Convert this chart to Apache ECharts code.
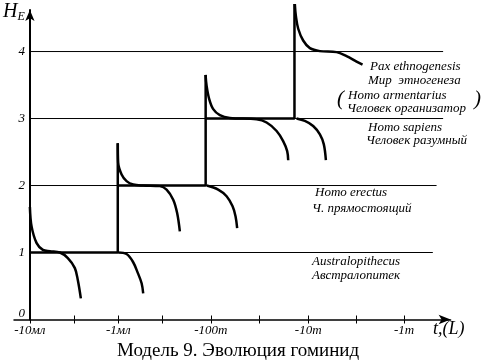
<!DOCTYPE html>
<html><head><meta charset="utf-8">
<script src="https://cdn.jsdelivr.net/npm/echarts@6/dist/echarts.min.js"></script>
<style>html,body{margin:0;padding:0;background:#fff}#c{width:487px;height:364px}</style>
</head><body><div id="c"></div>
<script>
const xTickValues = [0, 0.946, 1.936, 2.977, 4.003];
const xTickLabels = ['-10мл', '-1мл', '-100т', '-10т', '-1т'];
const xMinorTicks = [0.471, 1.415, 2.452, 3.494];
const yTickValues = [0, 1, 2, 3, 4];
const yTickLabels = ['0', '1', '2', '3', '4'];
const levels = [1, 2, 3, 4];
const levelEnds = [4.31, 4.35, 4.42, 4.42];

const stage1Step = [[0, 1], [0.94, 1], [0.94, 2.63]];
const stage2Step = [[0.94, 2], [1.88, 2], [1.88, 3.65]];
const stage3Step = [[1.88, 3], [2.83, 3], [2.83, 4.71]];

const curve1a = [[0, 1.68], [0.018, 1.39], [0.072, 1.14], [0.139, 1.04], [0.214, 1.02], [0.321, 1.0], [0.406, 0.917], [0.481, 0.767], [0.513, 0.586], [0.545, 0.316]];
const curve1b = [[0.944, 1.0], [1.034, 0.977], [1.102, 0.862], [1.155, 0.692], [1.195, 0.541], [1.212, 0.391]];
const curve2a = [[0.94, 2.63], [0.944, 2.341], [0.981, 2.165], [1.034, 2.066], [1.105, 2.015], [1.212, 2.0], [1.39, 1.991], [1.462, 1.94], [1.533, 1.789], [1.575, 1.589], [1.604, 1.314]];
const curve2b = [[1.89, 2.0], [2.014, 1.94], [2.104, 1.84], [2.168, 1.689], [2.2, 1.539], [2.217, 1.363]];
const curve3a = [[1.879, 3.651], [1.89, 3.49], [1.918, 3.29], [1.961, 3.14], [2.032, 3.05], [2.139, 3.009], [2.425, 2.989], [2.532, 2.94], [2.639, 2.814], [2.709, 2.663], [2.752, 2.513], [2.763, 2.378]];
const curve3b = [[2.852, 3.0], [2.941, 2.964], [3.03, 2.889], [3.102, 2.764], [3.144, 2.614], [3.166, 2.378]];
const curve4a = [[2.834, 4.71], [2.845, 4.53], [2.87, 4.34], [2.923, 4.165], [2.995, 4.051], [3.102, 4.006], [3.28, 3.991], [3.387, 3.931], [3.494, 3.85], [3.558, 3.805]];

const annotationLines = [
  ['Pax ethnogenesis', 370, 68],
  ['Мир  этногенеза', 368, 82],
  ['Homo armentarius', 348, 97],
  ['Человек организатор', 347, 110],
  ['Homo sapiens', 368, 129],
  ['Человек разумный', 366, 142],
  ['Homo erectus', 315, 194],
  ['Ч. прямостоящий', 312, 210],
  ['Australopithecus', 312, 263],
  ['Австралопитек', 312, 277]
];

const chart = echarts.init(document.getElementById('c'), null, {renderer: 'canvas'});
const serif = '"Liberation Serif", "DejaVu Serif", serif';

const series = [];
levels.forEach((lv, i) => {
  series.push({type: 'line', data: [[0, lv], [levelEnds[i], lv]], showSymbol: false, silent: true,
    lineStyle: {color: '#000', width: 1}, clip: false, z: 1});
});
[stage1Step, stage2Step, stage3Step].forEach(d => {
  series.push({type: 'line', data: d, showSymbol: false, silent: true,
    lineStyle: {color: '#000', width: 2.5}, clip: false, z: 3});
});
[curve1a, curve1b, curve2a, curve2b, curve3a, curve3b, curve4a].forEach(d => {
  series.push({type: 'line', data: d, showSymbol: false, silent: true, smooth: 0.35,
    lineStyle: {color: '#000', width: 2.5}, clip: false, z: 4});
});

const graphics = annotationLines.map(a => ({
  type: 'text', left: a[1], top: a[2] - 8,
  style: {text: a[0], fontFamily: serif, fontStyle: 'italic', fontSize: 13, fill: '#000'}
}));
graphics.push({type: 'text', left: 337, top: 89, style: {text: '(', fontFamily: serif, fontStyle: 'italic', fontSize: 21, fill: '#000'}});
graphics.push({type: 'text', left: 474, top: 89, style: {text: ')', fontFamily: serif, fontStyle: 'italic', fontSize: 21, fill: '#000'}});
graphics.push({type: 'text', left: 433, top: 320, style: {text: 't,(L)', fontFamily: serif, fontStyle: 'italic', fontSize: 18, fill: '#000'}});
graphics.push({type: 'text', left: 3, top: 2, style: {
  text: '{h|H}{e|E}', fill: '#000',
  rich: {h: {fontFamily: serif, fontStyle: 'italic', fontSize: 20}, e: {fontFamily: serif, fontStyle: 'italic', fontSize: 12, padding: [10, 0, 0, 0]}}
}});
graphics.push({type: 'text', left: 117, top: 342, style: {text: 'Модель 9. Эволюция гоминид', fontFamily: serif, fontSize: 19, fill: '#000'}});

const allXTicks = xTickValues.concat(xMinorTicks);

chart.setOption({
  animation: false,
  backgroundColor: '#fff',
  grid: {left: 14, top: 10, width: 436.6, height: 309.5, containLabel: false},
  xAxis: [{
    type: 'value', min: -0.17, max: 4.5,
    axisLine: {show: true, onZero: true, lineStyle: {color: '#000', width: 1.5}, symbol: ['none', 'arrow'], symbolSize: [7, 12]},
    axisTick: {show: true, customValues: allXTicks, length: 4, lineStyle: {color: '#000', width: 1}},
    axisLabel: {show: true, customValues: xTickValues, margin: 5,
      formatter: (v) => { const i = xTickValues.indexOf(v); return i >= 0 ? xTickLabels[i] : ''; },
      fontFamily: serif, fontStyle: 'italic', fontSize: 13, color: '#000'},
    splitLine: {show: false}
  }, {
    type: 'value', min: -0.17, max: 4.5, position: 'bottom',
    axisLine: {show: false},
    axisTick: {show: true, inside: true, customValues: allXTicks, length: 4, lineStyle: {color: '#000', width: 1}},
    axisLabel: {show: false},
    splitLine: {show: false}
  }],
  yAxis: {
    type: 'value', min: 0, max: 4.62,
    axisLine: {show: true, onZero: true, lineStyle: {color: '#000', width: 2}, symbol: ['none', 'arrow'], symbolSize: [7, 11]},
    axisTick: {show: false},
    axisLabel: {show: true, customValues: yTickValues, margin: -11,
      formatter: (v) => { const i = yTickValues.indexOf(v); return i === 0 ? '{z|0}' : (i > 0 ? yTickLabels[i] : ''); },
      rich: {z: {fontFamily: serif, fontStyle: 'italic', fontSize: 13, color: '#000', padding: [0, 0, 12, 0]}},
      fontFamily: serif, fontStyle: 'italic', fontSize: 13, color: '#000'},
    splitLine: {show: false}
  },
  series: series,
  graphic: graphics
});
</script></body></html>
